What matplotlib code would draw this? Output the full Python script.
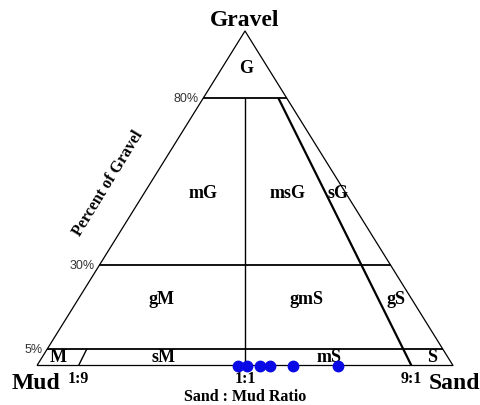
import matplotlib
matplotlib.use('Agg')
import matplotlib.pyplot as plt

# Folk (1954) gravel-sand-mud classes
gravel_limits = [0.05, 0.30, 0.80]
ratio_limits = [0.1, 0.5, 0.9]
ratio_labels = ['1:9', '1:1', '9:1']
percent_labels = ['5%', '30%', '80%']

region_names = ['G', 'mG', 'msG', 'sG', 'gM', 'gmS', 'gS', 'M', 'sM', 'mS', 'S']
region_x = [0.502, 0.399, 0.603, 0.724, 0.30, 0.647, 0.863, 0.05, 0.303, 0.702, 0.95]
region_y = [0.892, 0.518, 0.518, 0.518, 0.20, 0.20, 0.20, 0.026, 0.026, 0.026, 0.026]

# samples: sand/(sand+mud) ratio and gravel fraction
sample_ratio = [0.482, 0.504, 0.536, 0.560, 0.616, 0.724]
sample_gravel = [0.0, 0.0, 0.0, 0.0, 0.0, 0.0]


def tern(ratio, gravel):
    return ratio * (1 - gravel) + gravel / 2, gravel


W, H = 481, 406
fig = plt.figure(figsize=(W / 100, H / 100), dpi=100)
left, right, bottom, top = 37, 453, 366.5, 32
ax = fig.add_axes([left / W, (H - bottom) / H, (right - left) / W, (bottom - top) / H])
ax.set_xlim(0, 1)
ax.set_ylim(0, 1)
ax.axis('off')

serif = 'Liberation Serif'
lw = dict(color='black', clip_on=False, solid_capstyle='butt')

# outline
ax.plot([0, 1, 0.5, 0], [0, 0, 1, 0], lw=0.9, **lw)

# gravel percentage lines
for g, lab in zip(gravel_limits, percent_labels):
    ax.plot([g / 2, 1 - g / 2], [g, g], lw=1.3, **lw)
    ax.text(g / 2 - 0.012, g, lab, ha='right', va='center', fontsize=9,
            family='Liberation Sans', color='#333333')

# sand:mud ratio lines
tops = [0.05, 0.8, 0.8]
widths = [1.0, 1.0, 1.6]
for r, gt, w, lab in zip(ratio_limits, tops, widths, ratio_labels):
    x0, y0 = tern(r, 0)
    x1, y1 = tern(r, gt)
    ax.plot([x0, x1], [y0, y1], lw=w, **lw)
    ax.text(x0, -0.012, lab, ha='center', va='top', fontsize=11.5,
            family=serif, fontweight='bold')

for name, x, y in zip(region_names, region_x, region_y):
    ax.text(x, y, name, ha='center', va='center', fontsize=13,
            family=serif, fontweight='bold')

# samples
xs, ys = zip(*[tern(r, g) for r, g in zip(sample_ratio, sample_gravel)])
ax.plot(xs, ys, 'o', color='#0a0ae6', markersize=7.5, clip_on=False, zorder=5)

ax.text(0.5, 1.018, 'Gravel', ha='center', va='baseline', fontsize=17,
        family=serif, fontweight='bold')
ax.text(-0.002, -0.018, 'Mud', ha='center', va='top', fontsize=17,
        family=serif, fontweight='bold')
ax.text(1.003, -0.018, 'Sand', ha='center', va='top', fontsize=17,
        family=serif, fontweight='bold')
ax.text(0.5, -0.068, 'Sand : Mud Ratio', ha='center', va='top', fontsize=11.5,
        family=serif, fontweight='bold')
ax.text(0.171, 0.548, 'Percent of Gravel', ha='center', va='center', fontsize=11.5,
        family=serif, fontweight='bold', rotation=58.5, rotation_mode='anchor')

fig.savefig('out.png', dpi=100)
